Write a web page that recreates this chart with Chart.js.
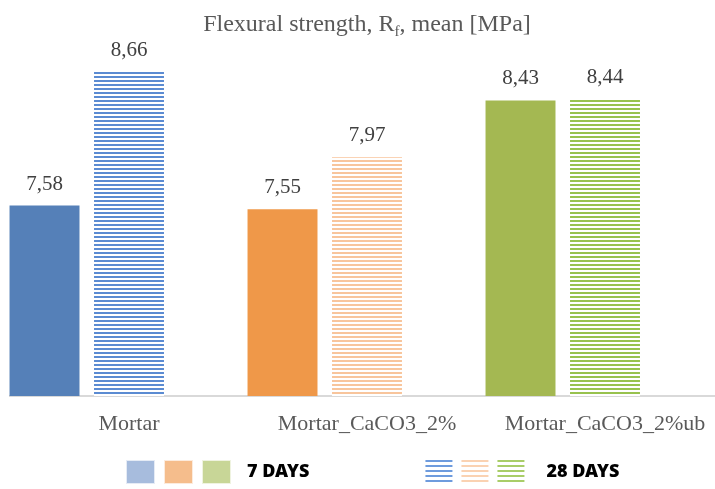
<!DOCTYPE html>
<html>
<head>
<meta charset="utf-8">
<script src="https://cdn.jsdelivr.net/npm/chart.js@4.4.1/dist/chart.umd.min.js"></script>
<style>
  html, body { margin: 0; padding: 0; background: #fff; width: 715px; height: 489px; overflow: hidden; }
  canvas { display: block; }
</style>
</head>
<body>
<canvas id="flexChart" width="734" height="489"></canvas>
<script>
// Data
const categories = ['Mortar', 'Mortar_CaCO3_2%', 'Mortar_CaCO3_2%ub'];
const days7 = [7.58, 7.55, 8.43];
const days28 = [8.66, 7.97, 8.44];
const seriesNames = ['7 DAYS', '28 DAYS'];

// Colours (per category)
const solidColors = ['#5580B8', '#EF9849', '#A4B852'];
const stripeColors = ['#5B8BD2', '#F8C59C', '#98C24E'];
const legendSolid = ['#A7BCDD', '#F5BD8C', '#C8D697'];
const legendStripe = ['#6E9BDD', '#FAD2B2', '#A9CD68'];

const legendFont = {
    family: '"Noto Sans", "Liberation Sans", sans-serif',
    size: 18,
    weight: '900'
};

const canvas = document.getElementById('flexChart');
const ctx = canvas.getContext('2d');

// horizontal stripe fill like the Excel "narrow horizontal" pattern
function stripes(color) {
    const c = document.createElement('canvas');
    c.width = 8; c.height = 4;
    const g = c.getContext('2d');
    g.fillStyle = '#ffffff';
    g.fillRect(0, 0, 8, 4);
    g.fillStyle = color;
    g.fillRect(0, 0, 8, 2);
    return ctx.createPattern(c, 'repeat');
}

// legend swatch images (three boxes each), drawn inside a transparent box
const BOX_W = 218;
const LEG_PAD = 10;
function legendImage(colors, hatched, offset, step, size) {
    const c = document.createElement('canvas');
    c.width = BOX_W; c.height = 26;
    const g = c.getContext('2d');
    colors.forEach((col, i) => {
        const x = Math.round(offset + i * step);
        if (hatched) {
            for (let y = 1; y < 1 + 24; y += 5) {
                g.fillStyle = col;
                g.fillRect(x, y, size, 2);
            }
        } else {
            g.fillStyle = col;
            g.fillRect(x, 1, size, 24);
            g.strokeStyle = 'rgba(255,255,255,0.7)';
            g.strokeRect(x + 0.5, 1.5, size - 1, 23);
        }
    });
    return c;
}
// where the second legend item starts depends on the width of the first text
ctx.font = `${legendFont.weight} ${legendFont.size}px ${legendFont.family}`;
const text1W = ctx.measureText(seriesNames[0]).width;
const item2Start = LEG_PAD * 2 + BOX_W + legendFont.size / 2 + text1W + LEG_PAD;
const legendImg7 = legendImage(legendSolid, false, 126 - LEG_PAD * 2, 38, 29);
const legendImg28 = legendImage(legendStripe, true, Math.max(0, Math.min(425 - item2Start, BOX_W - 100)), 36, 27);

// value labels above bars, decimal comma
const valueLabels = {
    id: 'valueLabels',
    afterDatasetsDraw(chart) {
        const c = chart.ctx;
        c.save();
        c.font = '21px "Liberation Serif", "Times New Roman", serif';
        c.fillStyle = '#404040';
        c.textAlign = 'center';
        c.textBaseline = 'bottom';
        chart.data.datasets.forEach((ds, i) => {
            chart.getDatasetMeta(i).data.forEach((bar, j) => {
                if (ds.data[j] == null) return;
                c.fillText(ds.data[j].toFixed(2).replace('.', ','), bar.x, bar.y - 11);
            });
        });
        c.restore();
    }
};

// title with subscript f
const titleWithSub = {
    id: 'titleWithSub',
    afterDraw(chart) {
        const c = chart.ctx;
        const big = '24px "Liberation Serif", "Times New Roman", serif';
        const small = '15px "Liberation Serif", "Times New Roman", serif';
        const parts = [['Flexural strength, R', big, 0], ['f', small, 5], [', mean [MPa]', big, 0]];
        let w = 0;
        parts.forEach(p => { c.font = p[1]; w += c.measureText(p[0]).width; });
        let x = chart.width / 2 - w / 2;
        const y = 31;
        c.save();
        c.fillStyle = '#595959';
        c.textBaseline = 'alphabetic';
        parts.forEach(p => {
            c.font = p[1];
            c.fillText(p[0], x, y + p[2]);
            x += c.measureText(p[0]).width;
        });
        c.restore();
    }
};

const barClip = { left: 2, top: 0, right: 0, bottom: 0 };

const chart = new Chart(ctx, {
    type: 'bar',
    data: {
        labels: categories,
        datasets: [
            {
                label: seriesNames[0],
                data: days7,
                backgroundColor: solidColors,
                clip: barClip
            },
            {
                label: seriesNames[1],
                data: days28,
                backgroundColor: stripeColors.map(stripes),
                clip: barClip
            },
            {
                // empty slot, keeps the gap Excel leaves after each group
                label: '',
                data: [null, null, null]
            }
        ]
    },
    options: {
        responsive: false,
        animation: false,
        devicePixelRatio: 1,
        categoryPercentage: 1.065,
        barPercentage: 0.828,
        layout: {
            padding: { top: 30, left: 10, right: 10, bottom: -2 }
        },
        plugins: {
            title: { display: false },
            tooltip: { enabled: false },
            legend: {
                display: true,
                position: 'bottom',
                align: 'start',
                labels: {
                    usePointStyle: true,
                    pointStyleWidth: BOX_W,
                    padding: LEG_PAD,
                    color: '#000000',
                    font: legendFont,
                    generateLabels: function() {
                        return [
                            { text: seriesNames[0], pointStyle: legendImg7, fillStyle: '#fff', strokeStyle: '#fff', lineWidth: 0, datasetIndex: 0 },
                            { text: seriesNames[1], pointStyle: legendImg28, fillStyle: '#fff', strokeStyle: '#fff', lineWidth: 0, datasetIndex: 1 }
                        ];
                    }
                }
            }
        },
        scales: {
            x: {
                grid: { display: false, drawTicks: false },
                border: { display: true, color: '#D9D9D9', width: 2 },
                ticks: {
                    color: '#595959',
                    padding: 15,
                    font: { family: '"Liberation Serif", "Times New Roman", serif', size: 22 }
                },
                afterFit: function(scale) {
                    scale.height = 57;
                }
            },
            y: {
                display: false,
                min: 6.04,
                max: 9.0
            }
        }
    },
    plugins: [valueLabels, titleWithSub]
});
</script>
</body>
</html>
